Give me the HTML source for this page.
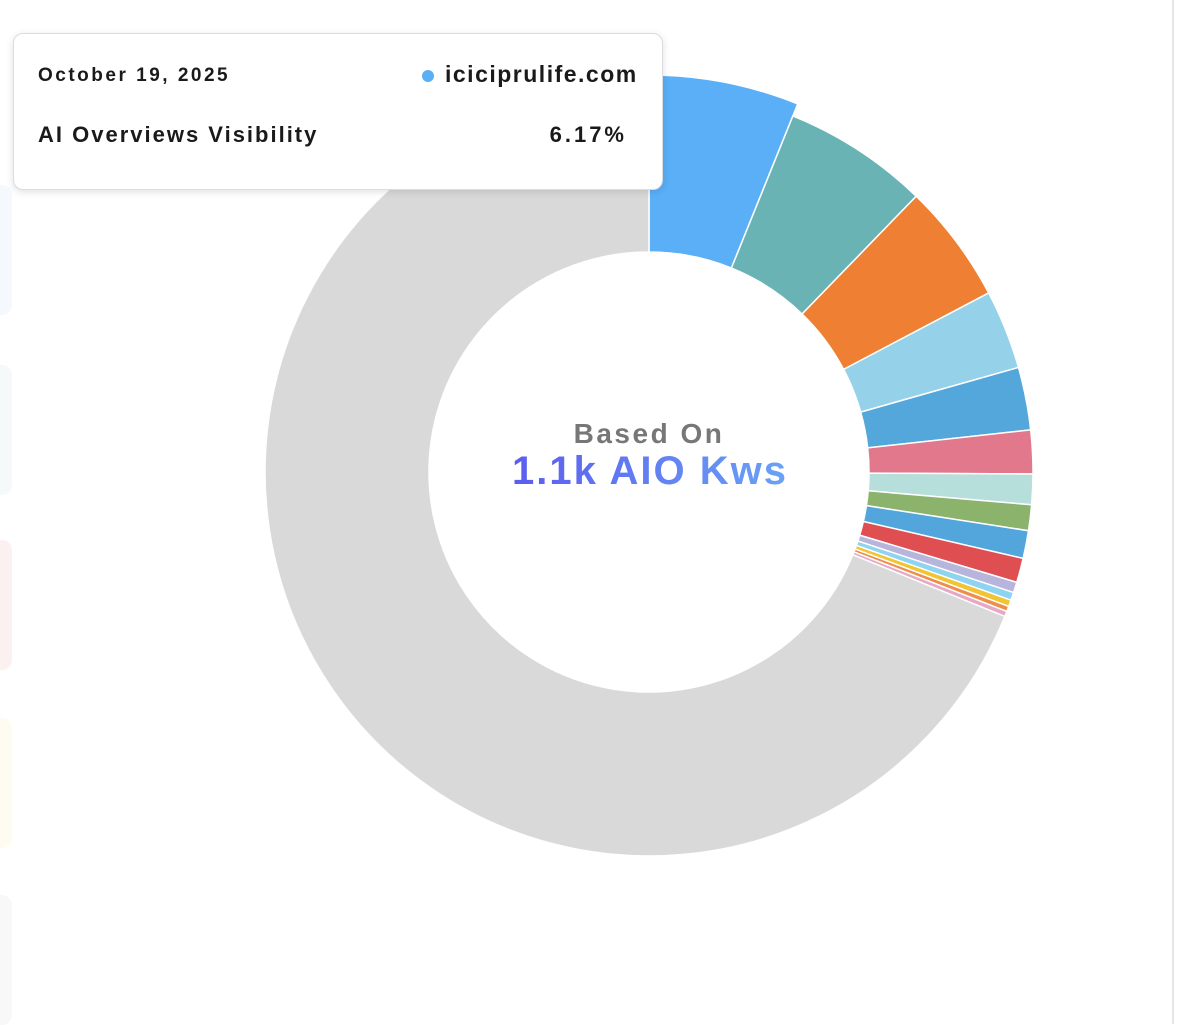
<!DOCTYPE html>
<html><head><meta charset="utf-8">
<style>
html,body{margin:0;padding:0;background:#fff;width:1185px;height:1024px;overflow:hidden;font-family:"Liberation Sans",sans-serif;}
#rl{position:absolute;left:1172px;top:0;width:2px;height:1024px;background:#e6e6e6;}
.card{position:absolute;left:-10px;width:22px;border-radius:10px;}
#tip{position:absolute;left:13px;top:33px;width:648px;height:155px;background:#fff;border:1px solid #dcdce0;border-radius:10px;box-shadow:0 2px 8px rgba(0,0,0,0.12);}
.t{position:absolute;color:#1a1a1a;white-space:nowrap;}
</style></head><body>
<div id="rl"></div>
<div class="card" style="top:185px;height:130px;background:#f5f8fd"></div>
<div class="card" style="top:365px;height:130px;background:#f6f9f9"></div>
<div class="card" style="top:540px;height:130px;background:#fcf1f1"></div>
<div class="card" style="top:718px;height:130px;background:#fefcf1"></div>
<div class="card" style="top:895px;height:130px;background:#f8f8f8"></div>
<svg id="s" width="1185" height="1024" style="position:absolute;left:0;top:0">
<defs><linearGradient id="g" x1="0" x2="1"><stop offset="0" stop-color="#5b5cf0"/><stop offset="1" stop-color="#6aa2f5"/></linearGradient></defs>
<g id="d"></g>
<text x="649" y="443" text-anchor="middle" font-family="Liberation Sans, sans-serif" font-weight="bold" font-size="28" letter-spacing="2.5" fill="#777">Based On</text>
<text x="650" y="484" text-anchor="middle" font-family="Liberation Sans, sans-serif" font-weight="bold" font-size="40" letter-spacing="2" fill="url(#g)">1.1k AIO Kws</text>
</svg>
<div id="tip">
<div class="t" style="left:24px;top:31px;font-size:19px;font-weight:bold;letter-spacing:2.5px;">October 19, 2025</div>
<div style="position:absolute;left:408px;top:36px;width:12px;height:12px;border-radius:50%;background:#5aaff5"></div>
<div class="t" style="left:431px;top:27px;font-size:23px;font-weight:bold;letter-spacing:1.5px;">iciciprulife.com</div>
<div class="t" style="left:24px;top:88px;font-size:22px;font-weight:bold;letter-spacing:2px;">AI Overviews Visibility</div>
<div class="t" style="right:35px;top:88px;font-size:22px;font-weight:bold;letter-spacing:3px;">6.17%</div>
</div>
<script>
var cx=649,cy=472,R=384,r=220;
var segs=[[0,22,"#5aaff7",397],[22,44.1,"#6ab3b5"],[44.1,62.2,"#ee7f33"],[62.2,74.2,"#95d1e8"],[74.2,83.7,"#53a7da"],[83.7,90.3,"#e2788c"],[90.3,94.9,"#b6dedb"],[94.9,98.8,"#8bb36b"],[98.8,103,"#52a6dc"],[103,106.7,"#df4f52"],[106.7,108.3,"#b7b5dc"],[108.3,109.5,"#8ed3ef"],[109.5,110.5,"#f2c431"],[110.5,111.3,"#ee8e4c"],[111.3,112.1,"#e6a8c2"],[112.1,360,"#d9d9d9"]];
function p(a,rad){a=a*Math.PI/180;return [cx+rad*Math.sin(a),cy-rad*Math.cos(a)];}
var h="";
segs.forEach(function(s){var RR=s[3]||R;var a=s[0],b=s[1],l=(b-a)>180?1:0;var p1=p(a,RR),p2=p(b,RR),p3=p(b,r),p4=p(a,r);
h+='<path d="M'+p1+' A'+RR+' '+RR+' 0 '+l+' 1 '+p2+' L'+p3+' A'+r+' '+r+' 0 '+l+' 0 '+p4+' Z" fill="'+s[2]+'" stroke="#fff" stroke-width="1.5"/>';});
document.getElementById("d").innerHTML=h;
</script>
</body></html>
